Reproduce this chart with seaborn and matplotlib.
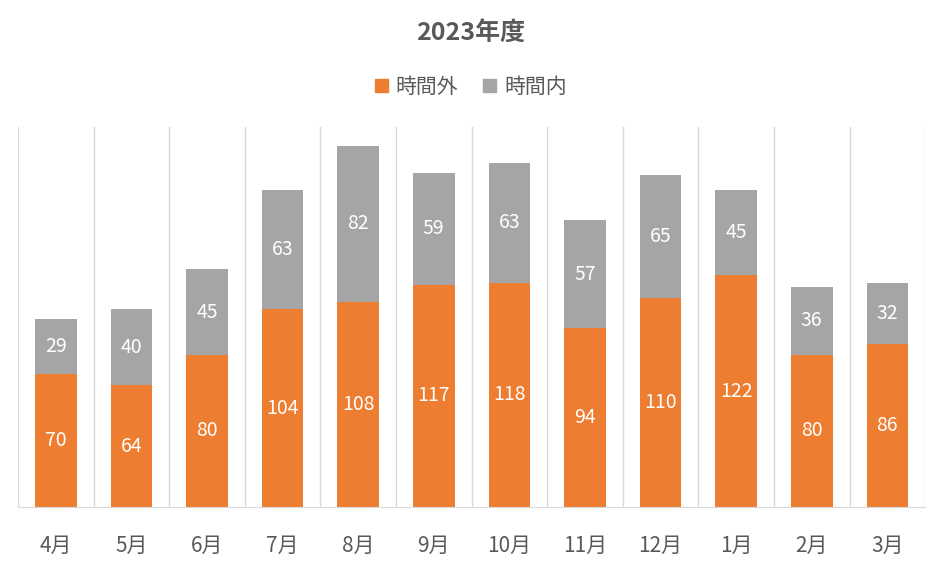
import pandas as pd
import matplotlib.pyplot as plt
import seaborn as sns
from matplotlib.patches import Patch

# データ
months = ['4月', '5月', '6月', '7月', '8月', '9月', '10月', '11月', '12月', '1月', '2月', '3月']
overtime = [70, 64, 80, 104, 108, 117, 118, 94, 110, 122, 80, 86]   # 時間外
regular = [29, 40, 45, 63, 82, 59, 63, 57, 65, 45, 36, 32]         # 時間内

df = pd.DataFrame({'月': months, '時間外': overtime, '時間内': regular})
df['合計'] = df['時間外'] + df['時間内']

sns.set_style('white')
plt.rcParams['font.family'] = ['Noto Sans CJK JP', 'DejaVu Sans']

orange = '#ED7D31'
gray = '#A5A5A5'
text_c = '#595959'
grid_c = '#D9D9D9'

fig = plt.figure(figsize=(9.42, 5.65), dpi=100)
ax = fig.add_axes([0.0191, 0.1027, 0.963, 0.6725])

# 積み上げ棒グラフ（合計→時間外の順で重ねる）
sns.barplot(data=df, x='月', y='合計', color=gray, width=0.55, saturation=1, linewidth=0, ax=ax)
sns.barplot(data=df, x='月', y='時間外', color=orange, width=0.55, saturation=1, linewidth=0, ax=ax)

# 値ラベル
for i, (o, r) in enumerate(zip(overtime, regular)):
    ax.text(i, o / 2, str(o), ha='center', va='center', color='white', fontsize=14)
    ax.text(i, o + r / 2, str(r), ha='center', va='center', color='white', fontsize=14)

# 区切り線
for i in range(len(months) + 1):
    ax.axvline(i - 0.5, color=grid_c, lw=1, zorder=0)

ax.set_xlim(-0.5, len(months) - 0.5)
ax.set_ylim(0, 200)
ax.set_yticks([])
ax.set_xlabel('')
ax.set_ylabel('')
for s in ['top', 'left', 'right']:
    ax.spines[s].set_visible(False)
ax.spines['bottom'].set_color(grid_c)
ax.tick_params(axis='x', length=0, pad=20, labelsize=15, labelcolor=text_c)

fig.suptitle('2023年度', x=0.5, y=0.962, fontsize=18, fontweight='bold', color=text_c)
handles = [Patch(color=orange, label='時間外'), Patch(color=gray, label='時間内')]
fig.legend(handles=handles, loc='center', bbox_to_anchor=(0.5, 0.846), ncol=2, frameon=False,
           fontsize=15, labelcolor=text_c, handlelength=0.6, handleheight=0.6,
           handletextpad=0.4, columnspacing=1.2)

fig.savefig('out.png', dpi=100)
